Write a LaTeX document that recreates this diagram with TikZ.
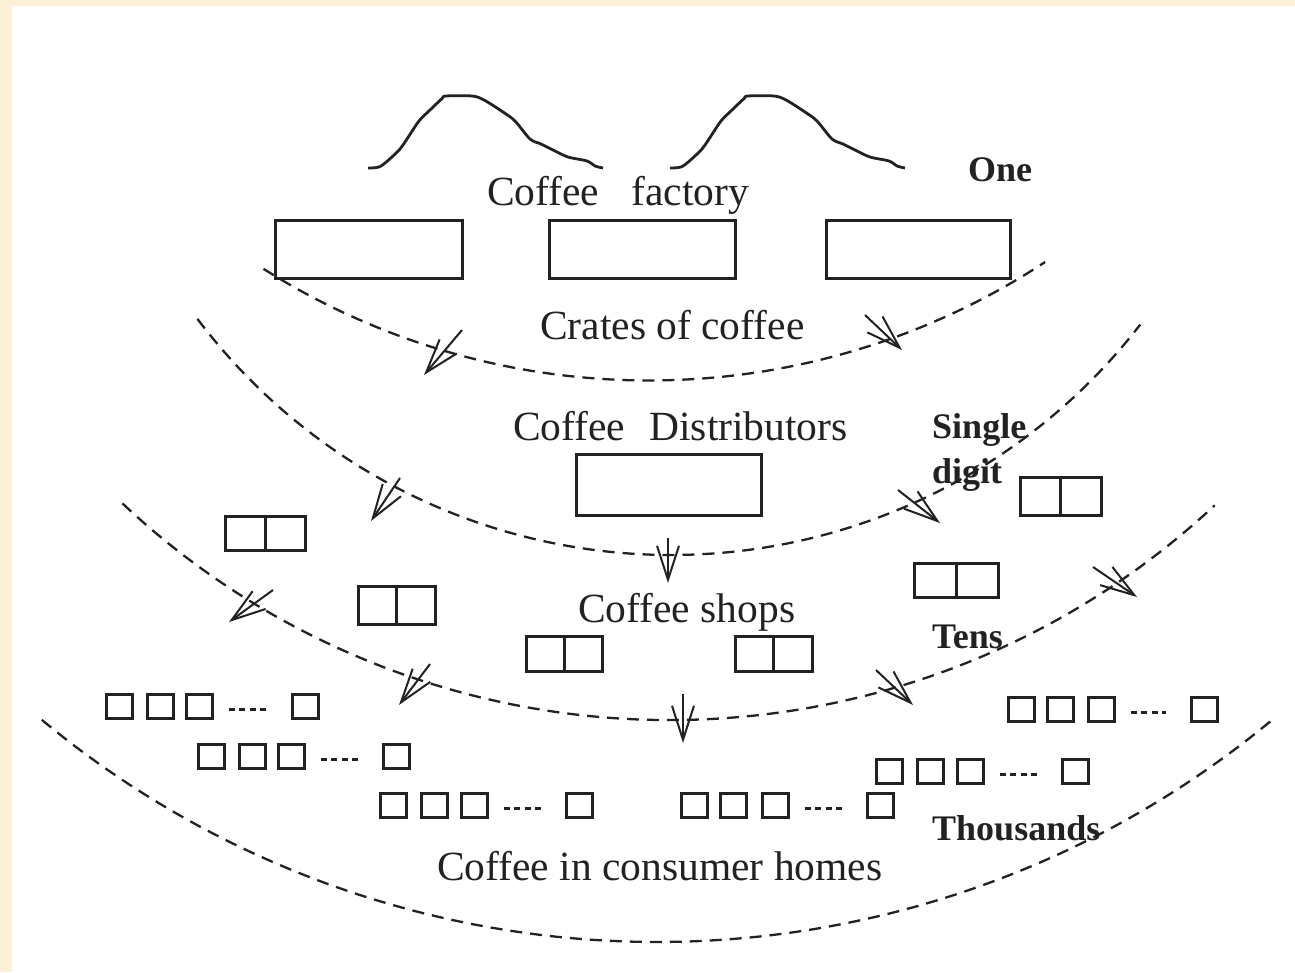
\documentclass[tikz,border=0pt]{standalone}
\usepackage{fontspec}
\setmainfont{Liberation Serif}
\usetikzlibrary{arrows.meta,calc}
\definecolor{paper}{RGB}{252,240,214}
\definecolor{ink}{RGB}{34,34,34}

\begin{document}
\begin{tikzpicture}[x=1pt,y=-1pt,
  roof/.style={draw=ink, line width=2.8pt, line join=round},
  ring/.style={draw=ink, line width=2.3pt, dash pattern=on 12pt off 8pt},
  crate/.style={draw=ink, line width=3pt, inner sep=0pt, outer sep=0pt},
  cup/.style={draw=ink, line width=3pt, inner sep=0pt, minimum width=26pt, minimum height=24pt},
  dots/.style={draw=ink, line width=2.4pt, dash pattern=on 6pt off 4.5pt},
  flow/.style={draw=ink, line width=2pt, -{Straight Barb[length=34pt,width=22pt,line width=2pt]}},
  lbl/.style={text=ink, inner sep=0pt, anchor=base west, font=\fontsize{41.5pt}{48pt}\selectfont},
  count/.style={text=ink, inner sep=0pt, anchor=base west, font=\fontsize{36pt}{42pt}\selectfont\bfseries},
]
\useasboundingbox (0,0) rectangle (1295,972);
\fill[paper] (0,0) rectangle (1295,972);
\fill[white] (12,6) rectangle (1295,972);

% factory roofs
\foreach \dx in {0,302} {
  \draw[roof, xshift=\dx pt] plot[smooth, tension=0.5] coordinates {
    (368,168) (379,167) (388,160.5) (400,149) (407,139) (419,121) (430,110)
    (442,98.6) (446,96) (472,96) (484,100) (503,112) (515,121) (530,139)
    (541,144) (553,150) (568,157) (587,161) (595,166) (603,168)};
}

% labels
\node[lbl] (factory) at (487,205) {Coffee\hspace{32pt}factory};
\node[count] (one) at (968,181) {One};
\node[lbl] (crates) at (540,339) {Crates of coffee};
\node[lbl] (distrib) at (513,440) {Coffee\hspace{24pt}Distributors};
\node[count] (single) at (932,438) {Single};
\node[count] (digit) at (932,483) {digit};
\node[lbl] (shops) at (578,622) {Coffee shops};
\node[count] (tens) at (932,648) {Tens};
\node[count] (thousands) at (932,840) {Thousands};
\node[lbl] (homes) at (437,880) {Coffee in consumer homes};

% factory warehouses
\node[crate, minimum width=187pt, minimum height=58pt] (fa) at (368.5,249) {};
\node[crate, minimum width=186pt, minimum height=58pt] (fb) at (642,249) {};
\node[crate, minimum width=184pt, minimum height=58pt] (fc) at (918,249) {};

% distributor
\node[crate, minimum width=185pt, minimum height=61pt] (dist) at (668.5,484.5) {};

% coffee shops (two-cell counters)
\foreach \n/\x/\y/\w/\h in {s1/265/533/80/34, s2/396.5/605/77/38, s3/564/653.5/76/35,
                           s4/773.5/653.5/77/35, s5/956/580/84/34, s6/1060.5/496/81/38} {
  \node[crate, minimum width=\w pt, minimum height=\h pt] (\n) at (\x,\y) {};
  \draw[crate] (\n.north) -- (\n.south);
}

% consumer homes
\foreach \r/\xa/\xb/\xc/\xd/\y in {l1/119/160/199/305/706.5, l2/211/252/291/396/756.5,
                                  l3/393/434/474/579/805.5, m/694/733/775/880/805.5,
                                  r1/1021/1060/1101/1204/709.5, r2/889/930/970/1075/771.5} {
  \node[cup] (\r a) at (\xa,\y) {};
  \node[cup] (\r b) at (\xb,\y) {};
  \node[cup] (\r c) at (\xc,\y) {};
  \node[cup] (\r d) at (\xd,\y) {};
  \draw[dots] ($(\r c.east)+(15,3)$) -- ($(\r d.west)+(-24,3)$);
}

% distribution rings
\draw[ring] plot[domain=-32.3:33.3, samples=140] ({649+721.5*sin(\x)},{-341+721.5*cos(\x)});
\draw[ring] plot[domain=-53:52.3, samples=160] ({671+593*sin(\x)},{-38+593*cos(\x)});
\draw[ring] plot[domain=-43.2:43, samples=160] ({669.6+799.3*sin(\x)},{-79.2+799.3*cos(\x)});
\draw[ring] plot[domain=-39.7:39.7, samples=180] ({657+963*sin(\x)},{-21+963*cos(\x)});

% flow arrows
\foreach \n/\ax/\ay/\bx/\by in {f1/462/330/424/375, f2/865/315/902/350,
                                f3/400/478/371/521, f4/668/538/668/583, f5/898/490/940/523,
                                f6/273/590/229/622, f7/430/664/399/705, f8/683/694/683/743,
                                f9/876/670/913/705, f10/1093/567/1137/597} {
  \coordinate (\n a) at (\ax,\ay);
  \coordinate (\n b) at (\bx,\by);
  \draw[flow] (\n a) -- (\n b);
}
\end{tikzpicture}
\end{document}
